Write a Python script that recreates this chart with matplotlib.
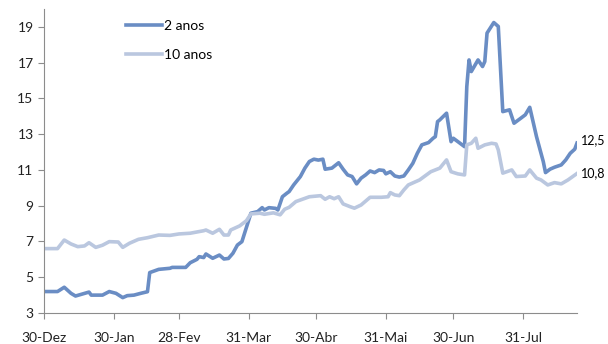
import numpy as np
import matplotlib
matplotlib.use('Agg')
import matplotlib.pyplot as plt

# Yields (%), days counted from 30-Dez-2010
start = np.datetime64('2010-12-30')

days_2y = [0, 6, 9, 12, 14, 17, 20, 21, 26, 29, 32, 35, 37, 40, 43, 46, 47, 51, 56,
           57, 63, 65, 68, 69, 71, 72, 75, 78, 80, 82, 84, 86, 88, 92, 95, 97, 98,
           100, 103, 104, 106, 108, 109, 111, 114, 116, 118, 120, 122, 124, 125,
           128, 131, 133, 135, 137, 139, 141, 143, 145, 147, 149, 151, 152, 154,
           156, 158, 160, 162, 164, 166, 168, 171, 173, 174, 175, 176, 179, 181,
           182, 185, 187, 188, 189, 190, 193, 195, 196, 197, 200, 202, 204, 207,
           209, 212, 214, 216, 219, 221, 222, 223, 225, 227, 230, 232, 234, 236, 237]
yield_2y = [4.2, 4.2, 4.44, 4.1, 3.95, 4.06, 4.17, 4.0, 4.0, 4.2, 4.1, 3.86, 3.97,
            4.0, 4.1, 4.19, 5.26, 5.44, 5.5, 5.55, 5.55, 5.81, 6.0, 6.15, 6.1, 6.3,
            6.06, 6.24, 6.02, 6.05, 6.34, 6.8, 6.99, 8.58, 8.67, 8.89, 8.76, 8.89,
            8.85, 8.76, 9.5, 9.7, 9.79, 10.16, 10.63, 11.1, 11.47, 11.6, 11.55, 11.6,
            11.04, 11.1, 11.4, 11.04, 10.72, 10.63, 10.22, 10.54, 10.72, 10.94, 10.85,
            11.0, 10.97, 10.78, 10.9, 10.66, 10.6, 10.66, 11.0, 11.37, 11.93, 12.4,
            12.53, 12.77, 12.86, 13.7, 13.8, 14.17, 12.58, 12.77, 12.49, 12.3, 15.66,
            17.15, 16.5, 17.15, 16.78, 17.06, 18.65, 19.24, 19.02, 14.26, 14.36, 13.61,
            13.89, 14.08, 14.5, 12.86, 11.93, 11.47, 10.85, 11.04, 11.15, 11.28, 11.56,
            11.93, 12.16, 12.5]

days_10y = [0, 6, 9, 12, 15, 18, 20, 23, 26, 29, 33, 35, 38, 42, 46, 48, 51, 56, 60,
            65, 71, 72, 75, 78, 80, 82, 83, 87, 90, 92, 96, 98, 102, 105, 107, 109,
            112, 118, 123, 125, 127, 129, 131, 133, 136, 138, 141, 145, 148, 150, 153,
            154, 156, 158, 160, 162, 167, 172, 176, 179, 181, 184, 187, 188, 190, 192,
            193, 196, 199, 201, 202, 204, 208, 210, 214, 216, 219, 221, 224, 227, 230,
            233, 237]
yield_10y = [6.6, 6.6, 7.08, 6.86, 6.71, 6.75, 6.93, 6.67, 6.79, 6.99, 6.97, 6.67,
             6.9, 7.12, 7.21, 7.27, 7.36, 7.34, 7.42, 7.46, 7.6, 7.64, 7.46, 7.68,
             7.36, 7.36, 7.64, 7.87, 8.16, 8.54, 8.58, 8.52, 8.6, 8.49, 8.8, 8.91,
             9.23, 9.5, 9.56, 9.36, 9.5, 9.39, 9.5, 9.1, 8.95, 8.86, 9.04, 9.47, 9.47,
             9.47, 9.5, 9.73, 9.6, 9.56, 9.88, 10.16, 10.44, 10.9, 11.1, 11.56, 10.9,
             10.78, 10.72, 12.4, 12.49, 12.77, 12.21, 12.4, 12.49, 12.45, 12.12, 10.82,
             11.0, 10.63, 10.66, 11.0, 10.54, 10.44, 10.16, 10.29, 10.22, 10.44, 10.8]

tick_dates = ['2010-12-30', '2011-01-30', '2011-02-28', '2011-03-31',
              '2011-04-30', '2011-05-31', '2011-06-30', '2011-07-31']
tick_labels = ['30-Dez', '30-Jan', '28-Fev', '31-Mar', '30-Abr', '31-Mai',
               '30-Jun', '31-Jul']
end_labels = ['12,5', '10,8']

plt.rcParams['font.family'] = ['Lato', 'DejaVu Sans']

dark = '#6a8dc4'
light = '#bac7df'

fig = plt.figure(figsize=(6.08, 3.44), dpi=100)
ax = fig.add_axes([0.0724, 0.0901, 0.8766, 0.8839])

x2 = start + np.array(days_2y).astype('timedelta64[D]')
x10 = start + np.array(days_10y).astype('timedelta64[D]')
ax.plot(x2, yield_2y, color=dark, lw=2.6, label='2 anos', solid_joinstyle='round')
ax.plot(x10, yield_10y, color=light, lw=2.6, label='10 anos', solid_joinstyle='round')

# end-of-series labels
ax.annotate(end_labels[0], (x2[-1], yield_2y[-1]), xytext=(3, 2),
            textcoords='offset points', va='center', fontsize=9, annotation_clip=False)
ax.annotate(end_labels[1], (x10[-1], yield_10y[-1]), xytext=(3, 0),
            textcoords='offset points', va='center', fontsize=9, annotation_clip=False)

ax.set_xlim(start, start + np.timedelta64(237, 'D'))
ax.set_ylim(3, 20)
ax.set_yticks(np.arange(3, 20, 2))
ax.set_xticks(np.array(tick_dates, dtype='datetime64[D]'))
ax.set_xticklabels(tick_labels)

for s in ['top', 'right']:
    ax.spines[s].set_visible(False)
for s in ['left', 'bottom']:
    ax.spines[s].set_color('#8c8c8c')
ax.tick_params(axis='both', direction='out', length=4, color='#8c8c8c',
               labelsize=10, labelcolor='#222222')
ax.tick_params(axis='x', pad=10)

ax.legend(loc='upper left', bbox_to_anchor=(0.13, 1.005), frameon=False,
          fontsize=10, handlelength=2.6, handletextpad=0.15, labelspacing=1.25)

plt.savefig('out.png', dpi=100)
